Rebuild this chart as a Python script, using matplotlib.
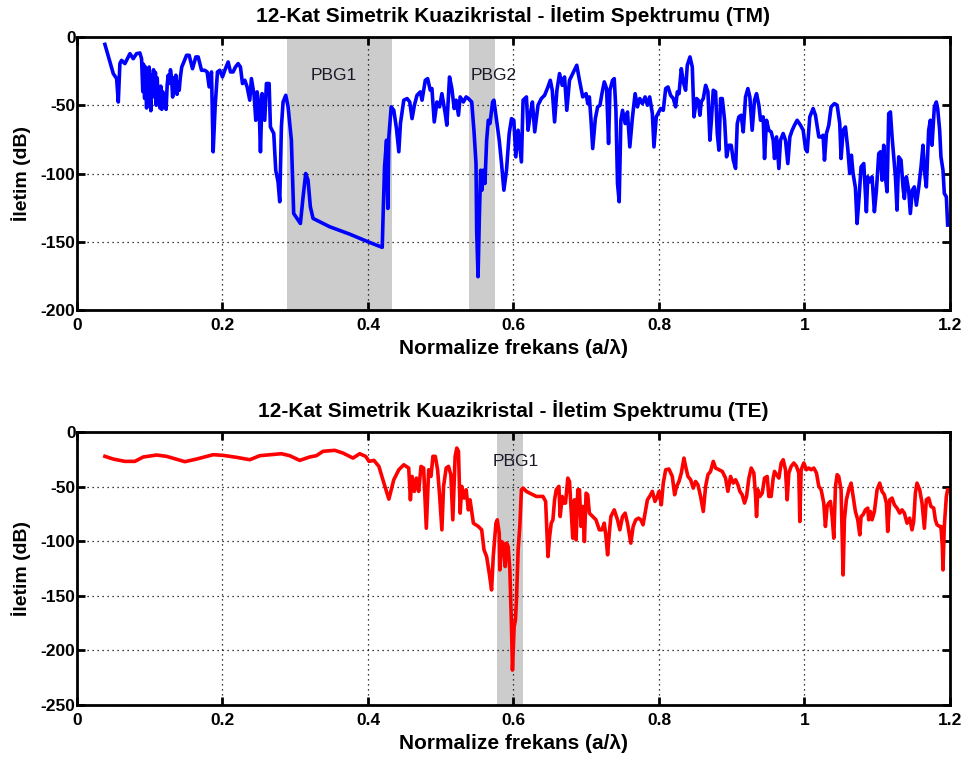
import numpy as np
import matplotlib
matplotlib.use("Agg")
import matplotlib.pyplot as plt

plt.rcParams["font.family"] = ["Liberation Sans", "DejaVu Sans"]
plt.rcParams["axes.unicode_minus"] = False

# TM transmission spectrum (normalised frequency a/lambda, dB)
tm_pts = np.array([
    (0.0384, -5.4), (0.0499, -26.8), (0.0545, -30.5), (0.0568, -47.6), (0.0590, -19.5), (0.0613, -17.1),
    (0.0659, -19.5), (0.0728, -12.2), (0.0773, -15.9), (0.0819, -12.2), (0.0865, -11.7), (0.0888, -16.0),
    (0.0905, -40.0), (0.0915, -20.0), (0.0930, -45.0), (0.0942, -22.0), (0.0957, -52.0), (0.0968, -25.0),
    (0.0980, -48.0), (0.0992, -22.0), (0.1005, -42.0), (0.1015, -54.0), (0.1025, -28.0), (0.1040, -40.0),
    (0.1052, -24.0), (0.1065, -44.0), (0.1078, -26.0), (0.1090, -50.0), (0.1103, -30.0), (0.1115, -45.0),
    (0.1128, -38.0), (0.1140, -52.0), (0.1152, -36.0), (0.1165, -53.0), (0.1178, -40.0), (0.1195, -50.0),
    (0.1210, -44.0), (0.1225, -53.0), (0.1240, -35.0), (0.1254, -28.0), (0.1270, -34.0), (0.1285, -24.0),
    (0.1300, -30.0), (0.1315, -44.0), (0.1332, -30.0), (0.1348, -40.0), (0.1359, -28.0), (0.1375, -42.0),
    (0.1391, -33.0), (0.1405, -39.0), (0.1420, -30.0), (0.1440, -22.0), (0.1460, -19.5),
    (0.1506, -13.4), (0.1542, -13.4), (0.1588, -23.2), (0.1634, -14.6), (0.1666, -14.6), (0.1712, -24.4),
    (0.1757, -24.4), (0.1789, -25.6), (0.1817, -36.6), (0.1849, -25.6), (0.1872, -84.1), (0.1899, -51.2),
    (0.1931, -25.6), (0.1963, -24.4), (0.2000, -29.3), (0.2032, -24.4), (0.2078, -18.3), (0.2110, -25.6),
    (0.2146, -25.6), (0.2178, -22.0), (0.2215, -19.5), (0.2247, -22.0), (0.2275, -34.1), (0.2307, -31.7),
    (0.2339, -36.6), (0.2375, -46.3), (0.2398, -30.5), (0.2435, -42.7), (0.2458, -61.0), (0.2476, -40.2),
    (0.2503, -50.0), (0.2522, -84.1), (0.2545, -41.5), (0.2581, -61.0), (0.2604, -34.1), (0.2641, -34.1),
    (0.2659, -65.9), (0.2705, -70.7), (0.2732, -97.6), (0.2764, -106.1), (0.2787, -120.7), (0.2810, -65.9),
    (0.2833, -47.6), (0.2870, -42.7), (0.2902, -51.2), (0.2947, -75.6), (0.2979, -129.3), (0.3039, -134.1),
    (0.3071, -136.6), (0.3108, -117.1), (0.3144, -100.0), (0.3176, -104.9), (0.3208, -124.4), (0.3245, -132.9),
    (0.3474, -139.0), (0.3748, -144.4), (0.4000, -150.0),
    (0.4196, -154.1), (0.4210, -126.8), (0.4228, -95.1), (0.4255, -75.6), (0.4273, -125.6), (0.4287, -73.2),
    (0.4319, -51.2), (0.4355, -53.7), (0.4392, -67.1), (0.4424, -84.1), (0.4446, -63.4), (0.4492, -46.3),
    (0.4538, -45.1), (0.4574, -47.6), (0.4606, -59.8), (0.4638, -50.0), (0.4674, -42.7), (0.4720, -40.2),
    (0.4743, -46.3), (0.4788, -31.7), (0.4820, -30.5), (0.4856, -39.0), (0.4879, -37.8), (0.4911, -62.2),
    (0.4948, -47.6), (0.4984, -51.2), (0.5016, -41.5), (0.5062, -56.1), (0.5084, -64.6), (0.5121, -29.3),
    (0.5153, -37.8), (0.5185, -52.4), (0.5212, -46.3), (0.5244, -57.3), (0.5267, -43.9), (0.5312, -47.6),
    (0.5349, -43.9), (0.5380, -45.1), (0.5426, -47.6), (0.5458, -69.5), (0.5485, -92.7), (0.5494, -141.5),
    (0.5513, -175.6), (0.5531, -131.7), (0.5549, -97.6), (0.5567, -112.2), (0.5585, -97.6), (0.5608, -107.3),
    (0.5631, -75.6), (0.5654, -61.0), (0.5677, -63.4), (0.5713, -47.6), (0.5731, -46.3), (0.5768, -61.0),
    (0.5804, -75.6), (0.5836, -92.7), (0.5868, -112.2), (0.5904, -97.6), (0.5941, -70.7), (0.5973, -59.8),
    (0.6005, -61.0), (0.6032, -87.8), (0.6064, -68.3), (0.6109, -91.5), (0.6132, -46.3), (0.6178, -43.9),
    (0.6200, -68.3), (0.6232, -56.1), (0.6260, -47.6), (0.6292, -69.5), (0.6337, -50.0), (0.6383, -45.1),
    (0.6428, -42.7), (0.6474, -36.6), (0.6506, -31.7), (0.6533, -39.0), (0.6565, -62.2), (0.6597, -39.0),
    (0.6633, -26.8), (0.6670, -35.4), (0.6702, -29.3), (0.6733, -53.7), (0.6770, -31.7), (0.6815, -26.8),
    (0.6870, -20.7), (0.6907, -31.7), (0.6952, -43.9), (0.6998, -41.5), (0.7021, -48.8), (0.7043, -43.9),
    (0.7066, -61.0), (0.7089, -81.7), (0.7125, -59.8), (0.7157, -51.2), (0.7189, -50.0), (0.7216, -41.5),
    (0.7248, -32.9), (0.7280, -37.8), (0.7307, -78.0), (0.7326, -39.0), (0.7362, -31.7), (0.7385, -30.5),
    (0.7408, -53.7), (0.7430, -107.3), (0.7453, -120.7), (0.7476, -61.0), (0.7499, -53.7), (0.7535, -63.4),
    (0.7567, -54.9), (0.7599, -80.5), (0.7636, -58.5), (0.7672, -41.5), (0.7704, -51.2), (0.7736, -45.1),
    (0.7772, -48.8), (0.7809, -43.9), (0.7841, -50.0), (0.7872, -43.9), (0.7909, -56.1), (0.7931, -80.5),
    (0.7963, -58.5),
    (0.7986, -56.1), (0.8023, -52.4), (0.8059, -53.7), (0.8092, -37.8), (0.8124, -36.6), (0.8160, -42.7),
    (0.8197, -45.1), (0.8229, -51.2), (0.8252, -40.2), (0.8275, -41.5), (0.8307, -23.2), (0.8334, -32.9),
    (0.8366, -39.0), (0.8389, -20.7), (0.8426, -14.6), (0.8458, -22.0), (0.8481, -58.5), (0.8517, -45.1),
    (0.8540, -46.3), (0.8563, -57.3), (0.8581, -47.6), (0.8609, -45.1), (0.8641, -35.4), (0.8673, -40.2),
    (0.8700, -75.6), (0.8719, -62.2), (0.8746, -39.0), (0.8778, -40.2), (0.8801, -70.7), (0.8824, -82.9),
    (0.8847, -45.1), (0.8870, -45.1), (0.8902, -61.0), (0.8929, -87.8), (0.8961, -79.3), (0.8993, -79.3),
    (0.9021, -90.2), (0.9053, -96.3), (0.9076, -63.4), (0.9098, -58.5), (0.9130, -57.3), (0.9158, -69.5),
    (0.9190, -43.9), (0.9222, -37.8), (0.9249, -43.9), (0.9281, -68.3), (0.9313, -46.3), (0.9341, -41.5),
    (0.9373, -50.0), (0.9396, -61.0), (0.9432, -58.5), (0.9451, -89.0), (0.9478, -61.0), (0.9510, -68.3),
    (0.9542, -69.5), (0.9570, -75.6), (0.9588, -89.0), (0.9616, -73.2), (0.9648, -96.3), (0.9670, -75.6),
    (0.9707, -70.7), (0.9739, -75.6), (0.9771, -92.7), (0.9799, -73.2), (0.9831, -68.3), (0.9863, -64.6),
    (0.9899, -61.0), (0.9945, -64.6), (0.9982, -68.3), (1.0014, -81.7), (1.0037, -84.1), (1.0073, -58.5),
    (1.0119, -52.4), (1.0151, -57.3), (1.0197, -73.2), (1.0229, -73.2), (1.0256, -72.0), (1.0275, -90.2),
    (1.0302, -70.7), (1.0334, -64.6), (1.0366, -51.2), (1.0412, -48.8), (1.0449, -50.0), (1.0485, -63.4),
    (1.0503, -89.0), (1.0531, -68.3), (1.0563, -65.9), (1.0595, -81.7), (1.0622, -100.0), (1.0645, -86.6),
    (1.0668, -100.0), (1.0700, -110.4), (1.0723, -136.6), (1.0751, -117.1), (1.0778, -95.1), (1.0815, -92.7),
    (1.0851, -128.0), (1.0870, -102.4), (1.0897, -106.1), (1.0929, -102.4), (1.0961, -128.0), (1.0989, -112.2),
    (1.1021, -85.4), (1.1043, -84.1), (1.1066, -104.9), (1.1089, -79.3), (1.1112, -102.4), (1.1135, -113.4),
    (1.1158, -56.1), (1.1181, -54.9), (1.1204, -73.2), (1.1227, -87.8), (1.1250, -102.4), (1.1272, -126.8),
    (1.1295, -87.8), (1.1327, -90.2), (1.1355, -110.4), (1.1373, -118.3), (1.1400, -102.4), (1.1432, -112.2),
    (1.1455, -129.3), (1.1483, -112.2), (1.1510, -109.8), (1.1538, -123.2), (1.1570, -110.4), (1.1602, -95.1),
    (1.1629, -79.3), (1.1648, -97.6), (1.1675, -109.8), (1.1707, -68.3), (1.1730, -61.0), (1.1753, -79.3),
    (1.1785, -51.2), (1.1812, -47.6), (1.1831, -52.4), (1.1858, -68.3), (1.1876, -87.8), (1.1904, -97.6),
    (1.1922, -114.6), (1.1950, -117.1), (1.1968, -137.8),
])
tm_freq, tm_db = tm_pts.T

# TE transmission spectrum
te_pts = np.array([
    (0.0384, -22.3), (0.0499, -24.8), (0.0659, -26.9), (0.0796, -26.9), (0.0911, -22.9), (0.1094, -21.1),
    (0.1231, -22.3), (0.1483, -27.2), (0.1643, -24.8), (0.1872, -20.8), (0.2009, -21.4), (0.2192, -23.2),
    (0.2375, -25.4), (0.2513, -21.7), (0.2810, -19.9), (0.2924, -21.7), (0.3062, -26.0), (0.3199, -22.9),
    (0.3291, -21.7), (0.3382, -17.7), (0.3542, -16.8), (0.3657, -19.3), (0.3794, -23.9), (0.3886, -19.9),
    (0.3968, -22.3), (0.4014, -26.9), (0.4082, -26.0), (0.4150, -31.5), (0.4219, -46.8), (0.4287, -61.5),
    (0.4355, -43.7), (0.4424, -34.6), (0.4492, -30.0), (0.4560, -33.0), (0.4583, -62.1), (0.4606, -40.7),
    (0.4638, -54.4), (0.4665, -42.2), (0.4697, -54.4), (0.4729, -31.5), (0.4765, -33.0), (0.4802, -88.1),
    (0.4834, -34.6), (0.4866, -40.7), (0.4893, -22.3), (0.4925, -22.3), (0.4957, -34.6), (0.4984, -57.5),
    (0.5016, -89.6), (0.5039, -49.8), (0.5075, -33.0), (0.5107, -31.5), (0.5139, -39.1), (0.5166, -80.4),
    (0.5198, -22.3), (0.5221, -14.7), (0.5244, -17.7), (0.5267, -74.3), (0.5289, -49.8), (0.5321, -60.5),
    (0.5349, -52.9), (0.5380, -71.3), (0.5403, -62.1), (0.5449, -83.5), (0.5517, -86.5), (0.5563, -89.6),
    (0.5595, -107.9), (0.5631, -114.1), (0.5667, -129.4), (0.5699, -144.6), (0.5722, -114.1), (0.5759, -83.5),
    (0.5777, -80.4), (0.5804, -92.7), (0.5813, -126.3), (0.5836, -100.3), (0.5859, -101.8), (0.5886, -123.2),
    (0.5904, -101.8), (0.5927, -104.9), (0.5950, -126.3), (0.5973, -178.3), (0.5986, -218.0), (0.6009, -178.3),
    (0.6027, -172.2), (0.6041, -153.8), (0.6064, -107.9), (0.6087, -86.5), (0.6109, -52.9), (0.6132, -51.4),
    (0.6178, -54.4), (0.6223, -56.0), (0.6269, -57.5), (0.6314, -59.0), (0.6360, -59.0), (0.6405, -59.0),
    (0.6442, -63.6), (0.6474, -114.1), (0.6497, -95.7), (0.6519, -83.5), (0.6542, -80.4), (0.6565, -62.1),
    (0.6588, -52.9), (0.6624, -49.8), (0.6642, -77.4), (0.6670, -59.0), (0.6688, -65.1), (0.6715, -65.1),
    (0.6747, -42.2), (0.6770, -45.3), (0.6793, -71.3), (0.6815, -97.2), (0.6838, -62.1), (0.6861, -98.8),
    (0.6884, -52.9), (0.6907, -52.9), (0.6929, -86.5), (0.6952, -68.2), (0.6975, -100.3), (0.6998, -56.0),
    (0.7021, -57.5), (0.7043, -74.3), (0.7089, -77.4), (0.7134, -80.4), (0.7180, -89.6), (0.7216, -89.6),
    (0.7248, -83.5), (0.7271, -95.7), (0.7294, -112.5), (0.7317, -92.7), (0.7339, -77.4), (0.7385, -71.3),
    (0.7430, -80.4), (0.7462, -89.6), (0.7499, -77.4), (0.7535, -74.3), (0.7567, -83.5), (0.7613, -101.8),
    (0.7645, -86.5), (0.7681, -80.4), (0.7718, -78.9), (0.7750, -80.4), (0.7781, -85.0), (0.7809, -74.3),
    (0.7841, -62.1), (0.7872, -59.0), (0.7909, -54.4), (0.7945, -63.6), (0.7977, -59.0),
    (0.8000, -54.4), (0.8032, -66.7), (0.8059, -46.8), (0.8092, -34.6), (0.8137, -33.9), (0.8183, -40.7),
    (0.8215, -57.5), (0.8243, -49.8), (0.8275, -45.3), (0.8307, -37.6), (0.8343, -23.9), (0.8366, -31.5),
    (0.8398, -40.7), (0.8435, -43.7), (0.8471, -51.4), (0.8503, -45.3), (0.8535, -48.3), (0.8572, -59.0),
    (0.8609, -72.8), (0.8641, -49.8), (0.8673, -39.1), (0.8709, -36.1), (0.8746, -26.9), (0.8778, -33.0),
    (0.8824, -34.6), (0.8870, -36.1), (0.8915, -42.2), (0.8947, -54.4), (0.8984, -40.7), (0.9021, -46.8),
    (0.9053, -43.7), (0.9085, -48.3), (0.9112, -54.4), (0.9144, -57.5), (0.9176, -65.1), (0.9204, -59.0),
    (0.9236, -42.2), (0.9268, -33.0), (0.9304, -37.6), (0.9327, -57.5), (0.9341, -77.4), (0.9359, -52.9),
    (0.9387, -59.0), (0.9419, -56.0), (0.9451, -42.2), (0.9487, -40.7), (0.9510, -59.0), (0.9542, -59.0),
    (0.9570, -42.2), (0.9588, -36.1), (0.9616, -39.1), (0.9648, -42.2), (0.9680, -28.4), (0.9707, -25.4),
    (0.9739, -34.6), (0.9762, -62.1), (0.9785, -37.6), (0.9817, -31.5), (0.9854, -28.4), (0.9890, -31.5),
    (0.9922, -37.6), (0.9936, -82.0), (0.9954, -34.6), (0.9991, -28.4), (1.0027, -34.6), (1.0059, -33.0),
    (1.0092, -34.6), (1.0128, -33.0), (1.0165, -37.6), (1.0197, -49.8), (1.0229, -52.9), (1.0265, -65.1),
    (1.0288, -86.5), (1.0311, -68.2), (1.0334, -65.1), (1.0357, -63.6), (1.0380, -77.4), (1.0403, -97.2),
    (1.0426, -49.8), (1.0449, -39.1), (1.0471, -40.7), (1.0503, -52.9), (1.0531, -130.9), (1.0549, -80.4),
    (1.0576, -62.1), (1.0609, -52.9), (1.0641, -46.8), (1.0668, -59.0), (1.0700, -72.8), (1.0732, -80.4),
    (1.0760, -94.2), (1.0778, -77.4), (1.0805, -75.8), (1.0838, -71.3), (1.0870, -69.7), (1.0883, -80.4),
    (1.0906, -72.8), (1.0929, -80.4), (1.0961, -72.8), (1.0998, -52.9), (1.1034, -46.8), (1.1066, -54.4),
    (1.1098, -57.5), (1.1126, -65.1), (1.1144, -91.1), (1.1172, -62.1), (1.1204, -60.5), (1.1236, -66.7),
    (1.1272, -69.7), (1.1309, -74.3), (1.1341, -71.3), (1.1373, -74.3), (1.1410, -83.5), (1.1446, -78.9),
    (1.1478, -89.6), (1.1501, -82.0), (1.1524, -56.0), (1.1547, -46.8), (1.1584, -52.9), (1.1616, -65.1),
    (1.1648, -88.1), (1.1675, -62.1), (1.1707, -60.5), (1.1739, -68.2), (1.1776, -69.7), (1.1799, -80.4),
    (1.1822, -85.0), (1.1858, -86.5), (1.1876, -86.5), (1.1895, -104.9), (1.1904, -126.3), (1.1922, -86.5),
    (1.1950, -59.0), (1.1968, -52.9),
])
te_freq, te_db = te_pts.T

# photonic band gaps: (start, end, label, label_x, label_y)
tm_gaps = [(0.2883, 0.4333, "PBG1", 0.3525, -28), (0.5394, 0.5745, "PBG2", 0.573, -28)]
te_gaps = [(0.5772, 0.6132, "PBG1", 0.6025, -27)]

fig = plt.figure(figsize=(9.67, 7.58), dpi=100)
ax1 = fig.add_axes([0.0796, 0.591, 0.9028, 0.3602])
ax2 = fig.add_axes([0.0796, 0.0699, 0.9028, 0.3602])


def style(ax, ylim, yticks, title):
    ax.set_xlim(0, 1.2)
    ax.set_ylim(*ylim)
    ax.set_xticks([0, 0.2, 0.4, 0.6, 0.8, 1, 1.2])
    ax.set_xticklabels(["0", "0.2", "0.4", "0.6", "0.8", "1", "1.2"])
    ax.set_yticks(yticks)
    ax.grid(True, color="k", ls=(0, (1, 3)), lw=0.9)
    ax.tick_params(direction="in", top=True, right=True, length=6, width=2,
                   labelsize=12.5)
    ax.tick_params(axis="x", pad=6)
    ax.tick_params(axis="y", pad=1)
    for lab in ax.get_xticklabels() + ax.get_yticklabels():
        lab.set_fontweight("bold")
    for sp in ax.spines.values():
        sp.set_linewidth(2)
    ax.set_xlabel("Normalize frekans (a/λ)", fontsize=15, fontweight="bold", labelpad=4)
    ax.set_ylabel("İletim (dB)", fontsize=14, fontweight="bold", labelpad=7)
    ax.set_title(title, fontsize=15, fontweight="bold", pad=11)


for ax, gaps in [(ax1, tm_gaps), (ax2, te_gaps)]:
    for a, b, name, lx, ly in gaps:
        ax.axvspan(a, b, color=(0.8, 0.8, 0.8), lw=0, zorder=1)
        ax.text(lx, ly, name, ha="center", va="center", fontsize=12.5, color="#1a1a2a", zorder=3)

ax1.plot(tm_freq, tm_db, color=(0, 0, 1), lw=2.6, zorder=2)
ax2.plot(te_freq, te_db, color=(1, 0, 0), lw=2.6, zorder=2)

style(ax1, (-200, 0), [-200, -150, -100, -50, 0],
      "12-Kat Simetrik Kuazikristal - İletim Spektrumu (TM)")
style(ax2, (-250, 0), [-250, -200, -150, -100, -50, 0],
      "12-Kat Simetrik Kuazikristal - İletim Spektrumu (TE)")

fig.savefig("out.png", dpi=100, facecolor="white")
